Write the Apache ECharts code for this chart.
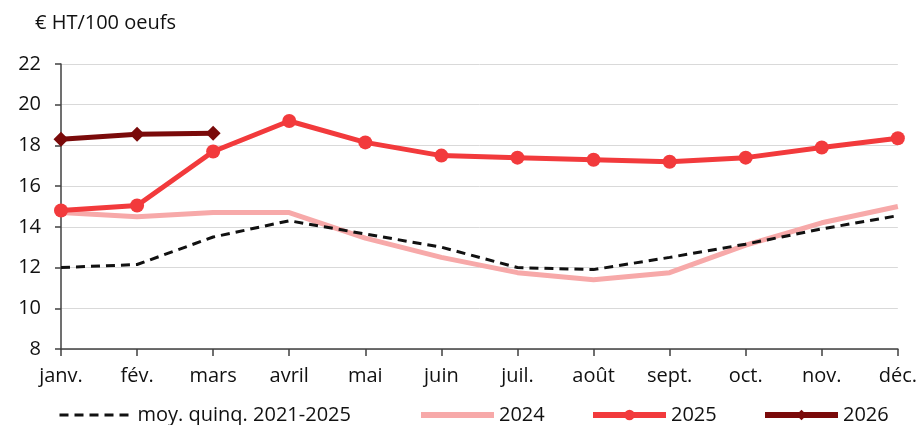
<!DOCTYPE html>
<html>
<head>
<meta charset="utf-8">
<script src="https://cdn.jsdelivr.net/npm/echarts@6/dist/echarts.min.js"></script>
<style>
  html, body { margin: 0; padding: 0; background: #fff; }
  #main { width: 920px; height: 425px; }
</style>
</head>
<body>
<div id="main"></div>
<script>
const months = ['janv.', 'fév.', 'mars', 'avril', 'mai', 'juin', 'juil.', 'août', 'sept.', 'oct.', 'nov.', 'déc.']
const moyQuinq = [12.0, 12.15, 13.5, 14.3, 13.65, 13.0, 12.0, 11.9, 12.5, 13.15, 13.9, 14.55]
const y2024 = [14.7, 14.5, 14.7, 14.7, 13.45, 12.5, 11.75, 11.4, 11.75, 13.1, 14.2, 15.0]
const y2025 = [14.8, 15.05, 17.7, 19.2, 18.15, 17.5, 17.4, 17.3, 17.2, 17.4, 17.9, 18.35]
const y2026 = [18.3, 18.55, 18.6]
const yTicks = { min: 8, max: 22, interval: 2 }

const font = '"Open Sans", sans-serif'
const chart = echarts.init(document.getElementById('main'), null, { renderer: 'canvas' })

function legendFor(name, left, lineWidth, hideSymbol) {
  return {
    data: [name],
    left: left,
    top: 400,
    itemWidth: 73,
    itemHeight: 13,
    itemGap: 8,
    textStyle: { fontFamily: font, fontSize: 20, color: '#111' },
    lineStyle: { width: lineWidth },
    itemStyle: hideSymbol ? { opacity: 0 } : {},
    selectedMode: false,
  }
}

const option = {
  backgroundColor: '#ffffff',
  animation: false,
  title: {
    text: '€ HT/100 oeufs',
    left: 30,
    top: 8,
    textStyle: { fontFamily: font, fontSize: 20, fontWeight: 'normal', color: '#111' },
  },
  grid: { left: 61, right: 22, top: 64, bottom: 76 },
  legend: [
    legendFor('moy. quinq. 2021-2025', 53, 3, true),
    legendFor('2024', 413, 6, true),
    legendFor('2025', 585, 6, false),
    legendFor('2026', 757, 6, false),
  ],
  xAxis: {
    type: 'category',
    data: months,
    boundaryGap: false,
    axisLine: { lineStyle: { color: '#404040', width: 1.5 } },
    axisTick: { show: true, alignWithLabel: true, length: 7, lineStyle: { color: '#404040', width: 1.5 } },
    axisLabel: { fontFamily: font, fontSize: 20, color: '#111', margin: 17, interval: 0 },
    splitLine: { show: false },
  },
  yAxis: {
    type: 'value',
    min: yTicks.min,
    max: yTicks.max,
    interval: yTicks.interval,
    axisLine: { show: true, lineStyle: { color: '#404040', width: 1.5 } },
    axisTick: { show: true, length: 6, lineStyle: { color: '#404040', width: 1.5 } },
    axisLabel: { fontFamily: font, fontSize: 20, color: '#111', margin: 20 },
    splitLine: { show: true, lineStyle: { color: '#d9d9d9', width: 1 } },
  },
  series: [
    {
      name: 'moy. quinq. 2021-2025',
      type: 'line',
      data: moyQuinq,
      symbol: 'none',
      lineStyle: { color: '#111111', width: 3, type: [9, 6] },
      itemStyle: { color: '#111111' },
      z: 4,
    },
    {
      name: '2024',
      type: 'line',
      data: y2024,
      symbol: 'none',
      lineStyle: { color: '#f7a9a9', width: 5 },
      itemStyle: { color: '#f7a9a9' },
      z: 3,
    },
    {
      name: '2025',
      type: 'line',
      data: y2025,
      symbol: 'circle',
      symbolSize: 14,
      lineStyle: { color: '#f23a3c', width: 5 },
      itemStyle: { color: '#f23a3c' },
      z: 5,
    },
    {
      name: '2026',
      type: 'line',
      data: y2026,
      symbol: 'diamond',
      symbolSize: 15,
      lineStyle: { color: '#7a0a0a', width: 5 },
      itemStyle: { color: '#7a0a0a' },
      z: 6,
    },
  ],
}

chart.setOption(option)
</script>
</body>
</html>
